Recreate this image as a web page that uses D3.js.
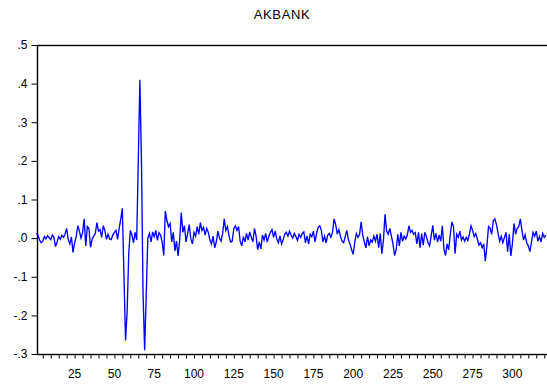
<!DOCTYPE html>
<html>
<head>
<meta charset="utf-8">
<script src="https://cdn.jsdelivr.net/npm/d3@7"></script>
<style>
  body { margin: 0; background: #fff; }
  svg text { font-family: "Liberation Sans", Arial, sans-serif; fill: #000; }
</style>
</head>
<body>
<div id="chart"></div>
<script>
// AKBANK returns (obs 1..321)
const returns = [
  0.012, 0.008, -0.005, -0.012, -0.008, 0.004, -0.002, 0.006, 0.001, -0.004,
  0.008, 0.002, -0.022, -0.01, 0.004, -0.003, 0.007, 0.002, 0.01, 0.025,
  -0.004, -0.015, 0.003, -0.037, -0.012, 0.004, 0.032, 0.018, 0.0, 0.014,
  0.05, -0.02, 0.03, 0.025, -0.024, -0.003, 0.005, 0.012, 0.04, 0.018,
  0.022, 0.002, 0.032, 0.02, -0.003, 0.01, -0.002, -0.004, 0.008, 0.015,
  0.02, -0.003, 0.025, 0.05, 0.077, -0.1, -0.265, -0.19, -0.04, 0.02,
  0.008, -0.012, 0.015, -0.005, 0.2, 0.41, 0.2, -0.145, -0.29, -0.145,
  0.0, 0.012, -0.01, 0.016, 0.004, 0.02, -0.006, 0.014, 0.008, -0.01,
  -0.045, 0.07, 0.045, 0.03, 0.038, -0.01, 0.015, -0.033, -0.008, -0.046,
  -0.005, 0.066, 0.015, 0.032, -0.01, 0.012, 0.035, -0.002, -0.015, 0.015,
  0.005, 0.03, 0.01, 0.04, 0.02, 0.028, 0.008, 0.025, 0.015, -0.005,
  -0.015, 0.005, -0.025, -0.01, 0.018, 0.0, -0.008, 0.012, 0.05, 0.02,
  0.03, 0.006, -0.01, -0.008, 0.025, 0.032, 0.02, 0.03, -0.008, -0.02,
  0.004, -0.01, 0.012, -0.005, 0.016, 0.002, -0.01, 0.025, 0.005, -0.03,
  -0.01, -0.028, 0.008, -0.005, 0.012, -0.01, 0.005, 0.015, 0.022, 0.002,
  0.018, -0.002, -0.012, 0.006, -0.015, -0.004, 0.01, 0.015, 0.005, 0.018,
  0.008, 0.0, 0.012, 0.004, -0.006, 0.01, 0.002, 0.012, 0.016, -0.012,
  0.006, -0.015, 0.01, 0.004, 0.018, -0.01, 0.012, 0.028, 0.032, 0.02,
  -0.01, 0.005, -0.012, 0.008, 0.012, 0.002, 0.015, 0.05, 0.035, 0.01,
  0.022, 0.005, -0.008, -0.012, 0.004, 0.02, -0.004, -0.015, -0.03, -0.042,
  -0.01, 0.012, 0.002, 0.01, 0.042, 0.008, -0.01, -0.025, 0.004, -0.02,
  -0.005, -0.01, 0.005, -0.008, 0.01, -0.025, 0.012, -0.04, -0.005, 0.062,
  0.018, 0.01, 0.025, 0.005, -0.015, -0.045, -0.03, 0.01, -0.02, 0.015,
  -0.008, 0.005, -0.002, 0.008, 0.032, 0.015, 0.02, 0.01, 0.014, -0.015,
  0.015, -0.025, 0.012, -0.018, 0.015, 0.004, -0.012, -0.02, 0.006, 0.033,
  -0.005, 0.012, -0.01, 0.008, -0.008, 0.032, -0.028, -0.045, -0.015, -0.03,
  0.01, 0.042, 0.03, -0.04, 0.01, 0.002, 0.018, -0.005, 0.003, -0.008,
  0.002, -0.006, 0.01, 0.032, 0.02, 0.004, 0.012, -0.003, -0.018, -0.012,
  -0.025, -0.015, -0.06, -0.02, 0.03, 0.026, 0.01, 0.045, 0.05, 0.035,
  0.012, -0.008, 0.005, -0.012, 0.002, 0.015, -0.035, 0.01, -0.046, -0.015,
  0.038, 0.01, 0.025, 0.03, 0.05, 0.02, -0.005, 0.008, -0.012, -0.02,
  -0.035, -0.01, 0.015, 0.005, 0.018, -0.008, 0.004, -0.01, 0.012, 0.002,
  0.008
];
const yTicks = [0.5, 0.4, 0.3, 0.2, 0.1, 0.0, -0.1, -0.2, -0.3];
const yTickLabels = [".5", ".4", ".3", ".2", ".1", ".0", "-.1", "-.2", "-.3"];
const xTickLabels = [25, 50, 75, 100, 125, 150, 175, 200, 225, 250, 275, 300];

const width = 547, height = 390;
const plotLeft = 37, plotTop = 45, plotBottom = 354, plotRight = 549;

const svg = d3.select("#chart").append("svg")
  .attr("width", width)
  .attr("height", height);

const x = d3.scaleLinear().domain([1, 323]).range([36.4, plotRight]);
const y = d3.scaleLinear().domain([-0.3, 0.5]).range([plotBottom, plotTop]);

// title
svg.append("text")
  .attr("x", 282)
  .attr("y", 19)
  .attr("text-anchor", "middle")
  .style("font-size", "13px")
  .style("letter-spacing", "0.6px")
  .text("AKBANK");

// series
const line = d3.line()
  .x((d, i) => x(i + 1))
  .y(d => y(d));

svg.append("path")
  .datum(returns)
  .attr("fill", "none")
  .attr("stroke", "#0000ff")
  .attr("stroke-width", 1.35)
  .attr("stroke-linejoin", "miter")
  .attr("d", line);

// frame
svg.append("rect")
  .attr("x", plotLeft + 0.5)
  .attr("y", plotTop + 0.5)
  .attr("width", plotRight - plotLeft)
  .attr("height", plotBottom - plotTop)
  .attr("fill", "none")
  .attr("stroke", "#000")
  .attr("stroke-width", 1.4);

// y axis
const yAxis = d3.axisLeft(y)
  .tickValues(yTicks)
  .tickSize(6)
  .tickPadding(4)
  .tickFormat((d, i) => yTickLabels[i]);

svg.append("g")
  .attr("transform", "translate(" + (plotLeft + 0.5) + ",0)")
  .call(yAxis)
  .call(g => g.select(".domain").remove())
  .call(g => g.selectAll("line").attr("stroke", "#000"))
  .call(g => g.selectAll("text").style("font-size", "12px").attr("font-family", null));

// x axis: minor ticks every 5 obs, labels every 25
const minor = d3.range(5, 323, 5);
svg.append("g")
  .attr("transform", "translate(0," + (plotBottom + 0.5) + ")")
  .call(d3.axisBottom(x).tickValues(minor).tickSize(4).tickFormat(""))
  .call(g => g.select(".domain").remove())
  .call(g => g.selectAll("line").attr("stroke", "#000"));

svg.append("g")
  .selectAll("text")
  .data(xTickLabels)
  .join("text")
  .attr("x", d => x(d))
  .attr("y", 378)
  .attr("text-anchor", "middle")
  .style("font-size", "12px")
  .text(d => d);
</script>
</body>
</html>
